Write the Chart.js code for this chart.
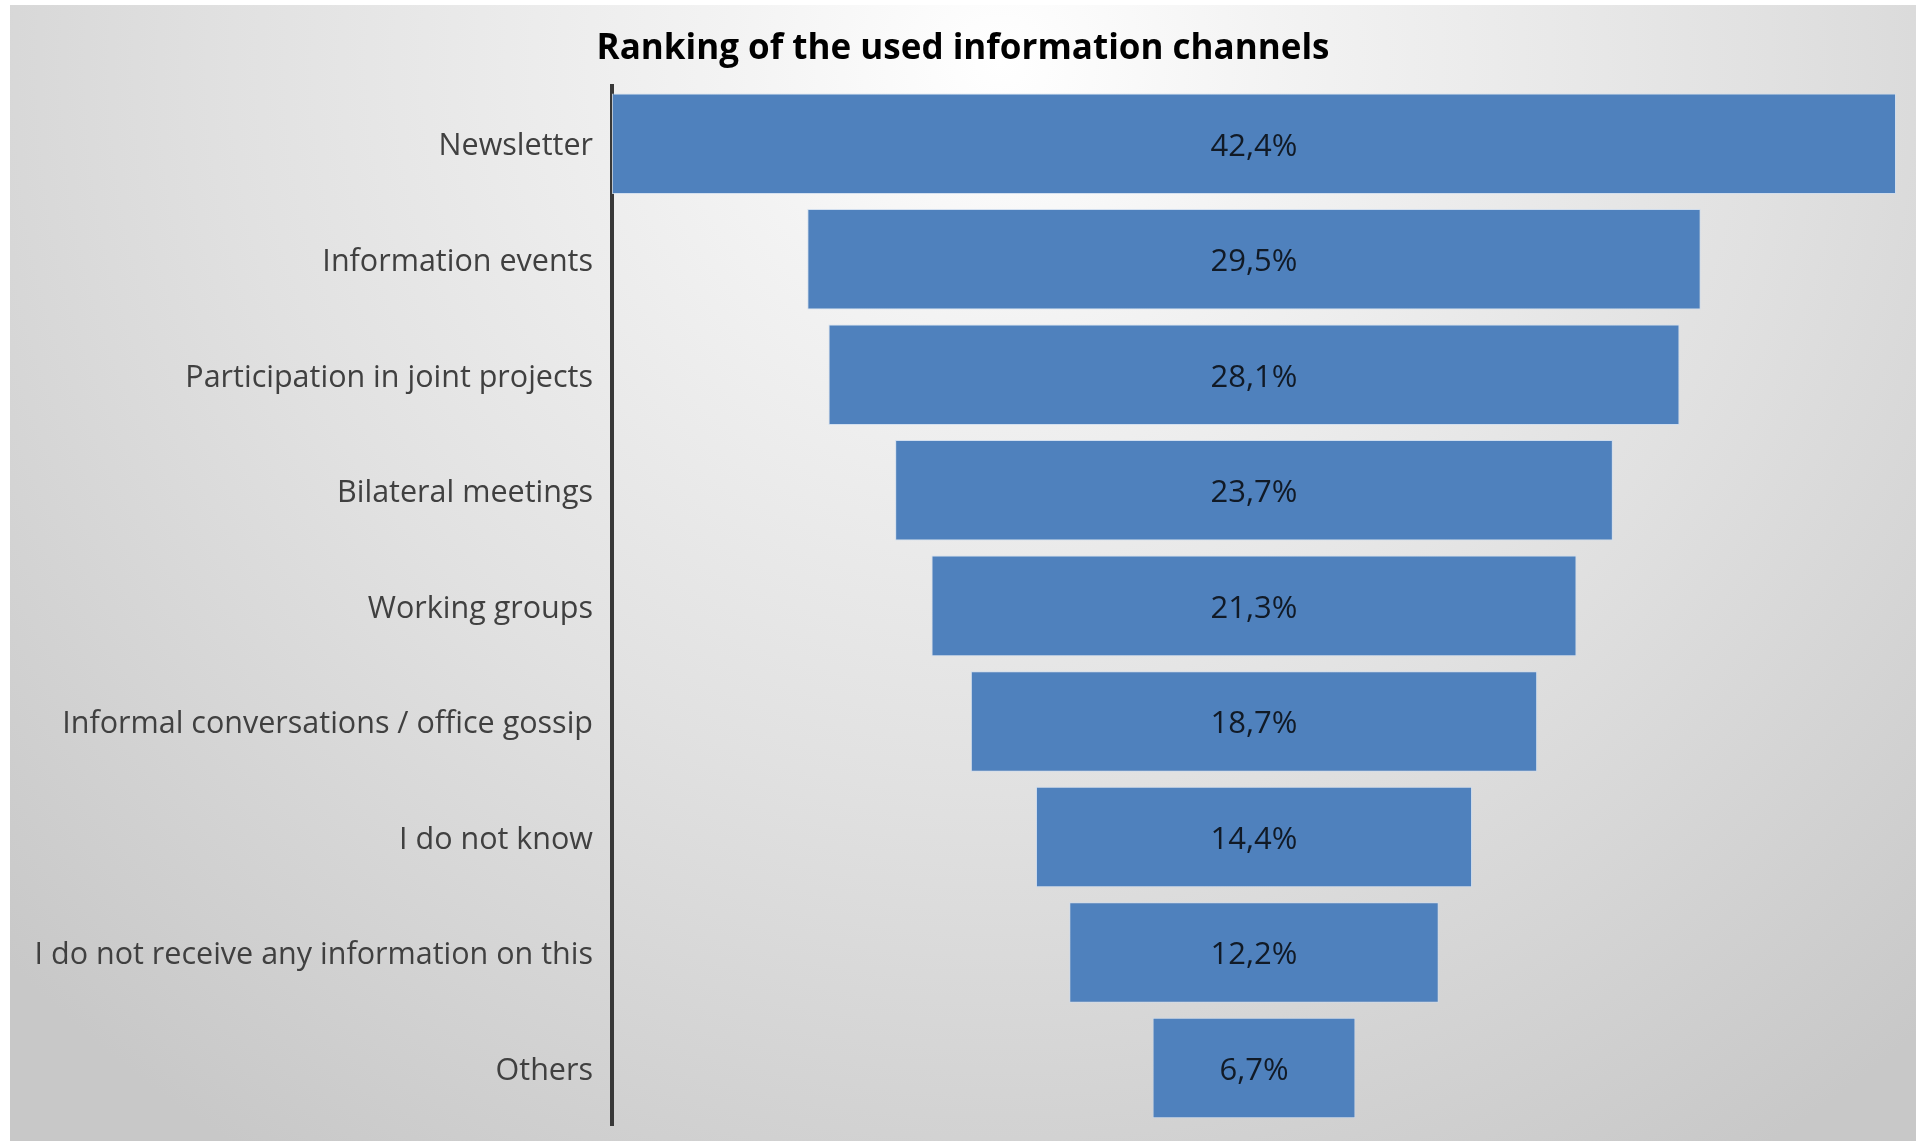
<!DOCTYPE html>
<html>
<head>
<meta charset="utf-8">
<title>Ranking of the used information channels</title>
<script src="https://cdn.jsdelivr.net/npm/chart.js@4.4.1/dist/chart.umd.min.js"></script>
<style>
  html, body { margin: 0; padding: 0; background: #ffffff; }
  body { width: 1916px; height: 1141px; overflow: hidden; position: relative; }
  #frame {
    position: absolute; left: 10px; top: 5px; width: 1906px; height: 1136px;
    background: radial-gradient(ellipse 72% 115% at 52% 5%, #ffffff 0%, #f3f3f3 20%, #e1e1e1 56%, #c8c8c8 100%);
  }
  #frame canvas { display: block; }
</style>
</head>
<body>
<div id="frame"><canvas id="chart" width="1906" height="1136"></canvas></div>
<script>
// Survey answers, ranked from most to least used channel
const channels = [
  'Newsletter',
  'Information events',
  'Participation in joint projects',
  'Bilateral meetings',
  'Working groups',
  'Informal conversations / office gossip',
  'I do not know',
  'I do not receive any information on this',
  'Others'
];
const shares = [42.4, 29.5, 28.1, 23.7, 21.3, 18.7, 14.4, 12.2, 6.7];

// Funnel layout: each bar is centred on zero, spanning half its share on each side
const funnelSpans = shares.map(v => [-v / 2, v / 2]);
const halfRange = 21.2;

const fmtShare = v => v.toFixed(1).replace('.', ',') + '%';

// Writes each share in the middle of its bar
const shareLabels = {
  id: 'shareLabels',
  afterDatasetsDraw(chart) {
    const ctx = chart.ctx;
    const meta = chart.getDatasetMeta(0);
    ctx.save();
    ctx.font = '31px "Open Sans", sans-serif';
    ctx.fillStyle = '#111a26';
    ctx.textAlign = 'center';
    ctx.textBaseline = 'middle';
    meta.data.forEach((bar, i) => {
      const c = bar.getCenterPoint();
      ctx.fillText(fmtShare(shares[i]), c.x, c.y + 3);
    });
    ctx.restore();
  }
};

// Let the longest category name use the left margin instead of being clipped
const widenLabelArea = {
  id: 'widenLabelArea',
  afterLayout(chart) { chart.scales.y.left = 0; }
};

new Chart(document.getElementById('chart'), {
  type: 'bar',
  data: {
    labels: channels,
    datasets: [{
      data: funnelSpans,
      backgroundColor: '#4f81bd',
      borderColor: 'rgba(205,220,238,0.85)',
      borderWidth: 1,
      borderSkipped: false,
      barPercentage: 0.87,
      categoryPercentage: 1.0
    }]
  },
  options: {
    indexAxis: 'y',
    responsive: false,
    animation: false,
    layout: { padding: { left: 20, right: 20, top: 0, bottom: 15 } },
    plugins: {
      legend: { display: false },
      tooltip: { enabled: false },
      title: {
        display: true,
        text: 'Ranking of the used information channels',
        color: '#000000',
        font: { family: '"Open Sans", sans-serif', size: 35, weight: 'bold', lineHeight: 1.2 },
        padding: { top: 23, bottom: 16 }
      }
    },
    scales: {
      x: {
        display: false,
        min: -halfRange,
        max: halfRange
      },
      y: {
        afterFit(scale) { scale.width = 582; },
        grid: { display: false, drawTicks: true, tickLength: 19, tickColor: 'rgba(0,0,0,0)' },
        border: { display: true, color: '#383838', width: 4 },
        ticks: {
          padding: 0,
          labelOffset: 3,
          color: '#404040',
          font: { family: '"Open Sans", sans-serif', size: 30.5, lineHeight: 1.0 }
        }
      }
    }
  },
  plugins: [shareLabels, widenLabelArea]
});
</script>
</body>
</html>
